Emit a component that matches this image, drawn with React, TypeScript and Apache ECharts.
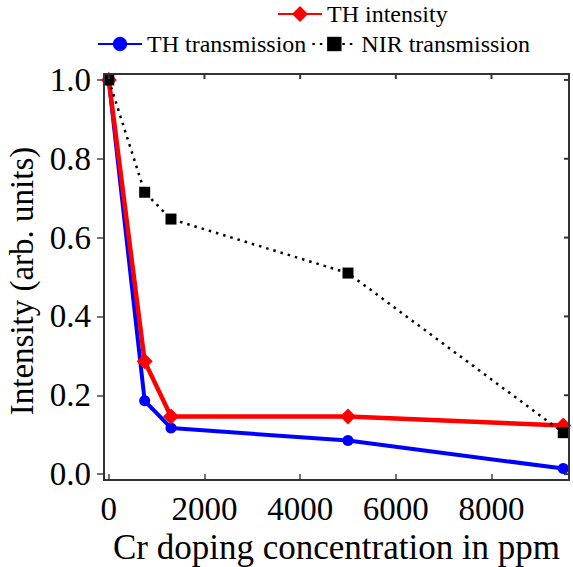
import React, { useEffect, useRef } from "react";
import * as echarts from "echarts";

const concentrations = [0, 750, 1300, 5000, 9500];
const thIntensity = [1.0, 0.286, 0.146, 0.146, 0.123];
const thTransmission = [1.0, 0.186, 0.117, 0.085, 0.014];
const nirTransmission = [1.0, 0.715, 0.647, 0.51, 0.105];
const xTicks = [0, 2000, 4000, 6000, 8000];
const yTicks = [0, 0.2, 0.4, 0.6, 0.8, 1.0];
const X_MIN = -100;
const X_MAX = 9620;
const Y_MIN = -0.015;
const Y_MAX = 1.015;

const FONT = "'Liberation Serif', 'Times New Roman', serif";
const AXIS_COLOR = "#444";

export default function App() {
  const ref = useRef<HTMLDivElement>(null);
  useEffect(() => {
    if (!ref.current) return;
    const chart = echarts.init(ref.current, undefined, { renderer: "svg" });
    const pair = (ys: number[]) => concentrations.map((x, i) => [x, ys[i]]);
    const tickStyle = { color: AXIS_COLOR, width: 1.5 };
    chart.setOption({
      animation: false,
      backgroundColor: "#fff",
      textStyle: { fontFamily: FONT },
      grid: {
        left: 104,
        right: 4,
        top: 74,
        bottom: 87,
        containLabel: false,
        outerBoundsMode: "none",
        show: true,
        borderColor: AXIS_COLOR,
        borderWidth: 1.5,
        backgroundColor: "rgba(0,0,0,0)",
      },
      legend: [
        {
          data: ["TH intensity"],
          left: 272,
          top: -3,
          itemWidth: 44,
          itemHeight: 20,
          textStyle: { fontFamily: FONT, fontSize: 24, color: "#000" },
        },
        {
          data: ["TH transmission", "NIR transmission"],
          left: 92,
          top: 27,
          itemWidth: 44,
          itemHeight: 18,
          itemGap: 5,
          textStyle: { fontFamily: FONT, fontSize: 24, color: "#000" },
        },
      ],
      xAxis: {
        type: "value",
        min: X_MIN,
        max: X_MAX,
        splitLine: { show: false },
        axisLine: { show: true, onZero: false, lineStyle: tickStyle },
        name: "Cr doping concentration in ppm",
        nameLocation: "middle",
        nameGap: 48,
        nameTextStyle: { fontFamily: FONT, fontSize: 35, color: "#000" },
        axisTick: { show: true, inside: true, length: 6, customValues: xTicks, lineStyle: tickStyle },
        axisLabel: {
          customValues: xTicks,
          fontFamily: FONT,
          fontSize: 33,
          color: "#000",
          margin: 12,
          formatter: (v: number) => String(v),
        },
      },
      yAxis: {
        type: "value",
        min: Y_MIN,
        max: Y_MAX,
        splitLine: { show: false },
        axisLine: { show: true, onZero: false, lineStyle: tickStyle },
        name: "Intensity (arb. units)",
        nameLocation: "middle",
        nameGap: 65,
        nameTextStyle: { fontFamily: FONT, fontSize: 33, color: "#000", padding: [0, 8, 0, 0] },
        axisTick: { show: true, inside: false, length: 7, customValues: yTicks, lineStyle: tickStyle },
        axisLabel: {
          customValues: yTicks,
          fontFamily: FONT,
          fontSize: 33,
          color: "#000",
          margin: 13,
          formatter: (v: number) => v.toFixed(1),
        },
      },
      series: [
        {
          name: "TH transmission",
          type: "line",
          data: pair(thTransmission),
          color: "#0000ff",
          symbol: "circle",
          symbolSize: 11,
          lineStyle: { width: 4, color: "#0000ff" },
          itemStyle: { color: "#0000ff" },
        },
        {
          name: "TH intensity",
          type: "line",
          data: pair(thIntensity),
          color: "#ff0000",
          symbol: "diamond",
          symbolSize: 16,
          lineStyle: { width: 4.5, color: "#ff0000" },
          itemStyle: { color: "#ff0000" },
        },
        {
          name: "NIR transmission",
          type: "line",
          data: pair(nirTransmission),
          color: "#000",
          symbol: "rect",
          symbolSize: 11,
          lineStyle: { width: 2.5, color: "#000", type: [2.5, 5] },
          itemStyle: { color: "#000" },
        },
      ],
    });

    // Frame rectangle and inward ticks on top/right, positioned through the chart's own scales.
    const px = (x: number, y: number) => chart.convertToPixel({ gridIndex: 0 }, [x, y]) as number[];
    const tl = px(X_MIN, Y_MAX);
    const br = px(X_MAX, Y_MIN);
    const stroke = { stroke: "#333", lineWidth: 2, fill: "none" };
    const elements: any[] = [
      {
        type: "rect",
        shape: { x: tl[0], y: tl[1], width: br[0] - tl[0], height: br[1] - tl[1] },
        style: stroke,
        silent: true,
        z: 100,
      },
    ];
    xTicks.forEach((v) => {
      const p = px(v, Y_MAX);
      elements.push({ type: "line", shape: { x1: p[0], y1: p[1], x2: p[0], y2: p[1] + 5 }, style: stroke, silent: true, z: 100 });
    });
    yTicks.forEach((v) => {
      const p = px(X_MAX, v);
      elements.push({ type: "line", shape: { x1: p[0] - 5, y1: p[1], x2: p[0], y2: p[1] }, style: stroke, silent: true, z: 100 });
    });
    chart.setOption({ graphic: elements });

    return () => chart.dispose();
  }, []);
  return <div ref={ref} style={{ width: 573, height: 567, position: "absolute", left: 0, top: 0 }} />;
}
